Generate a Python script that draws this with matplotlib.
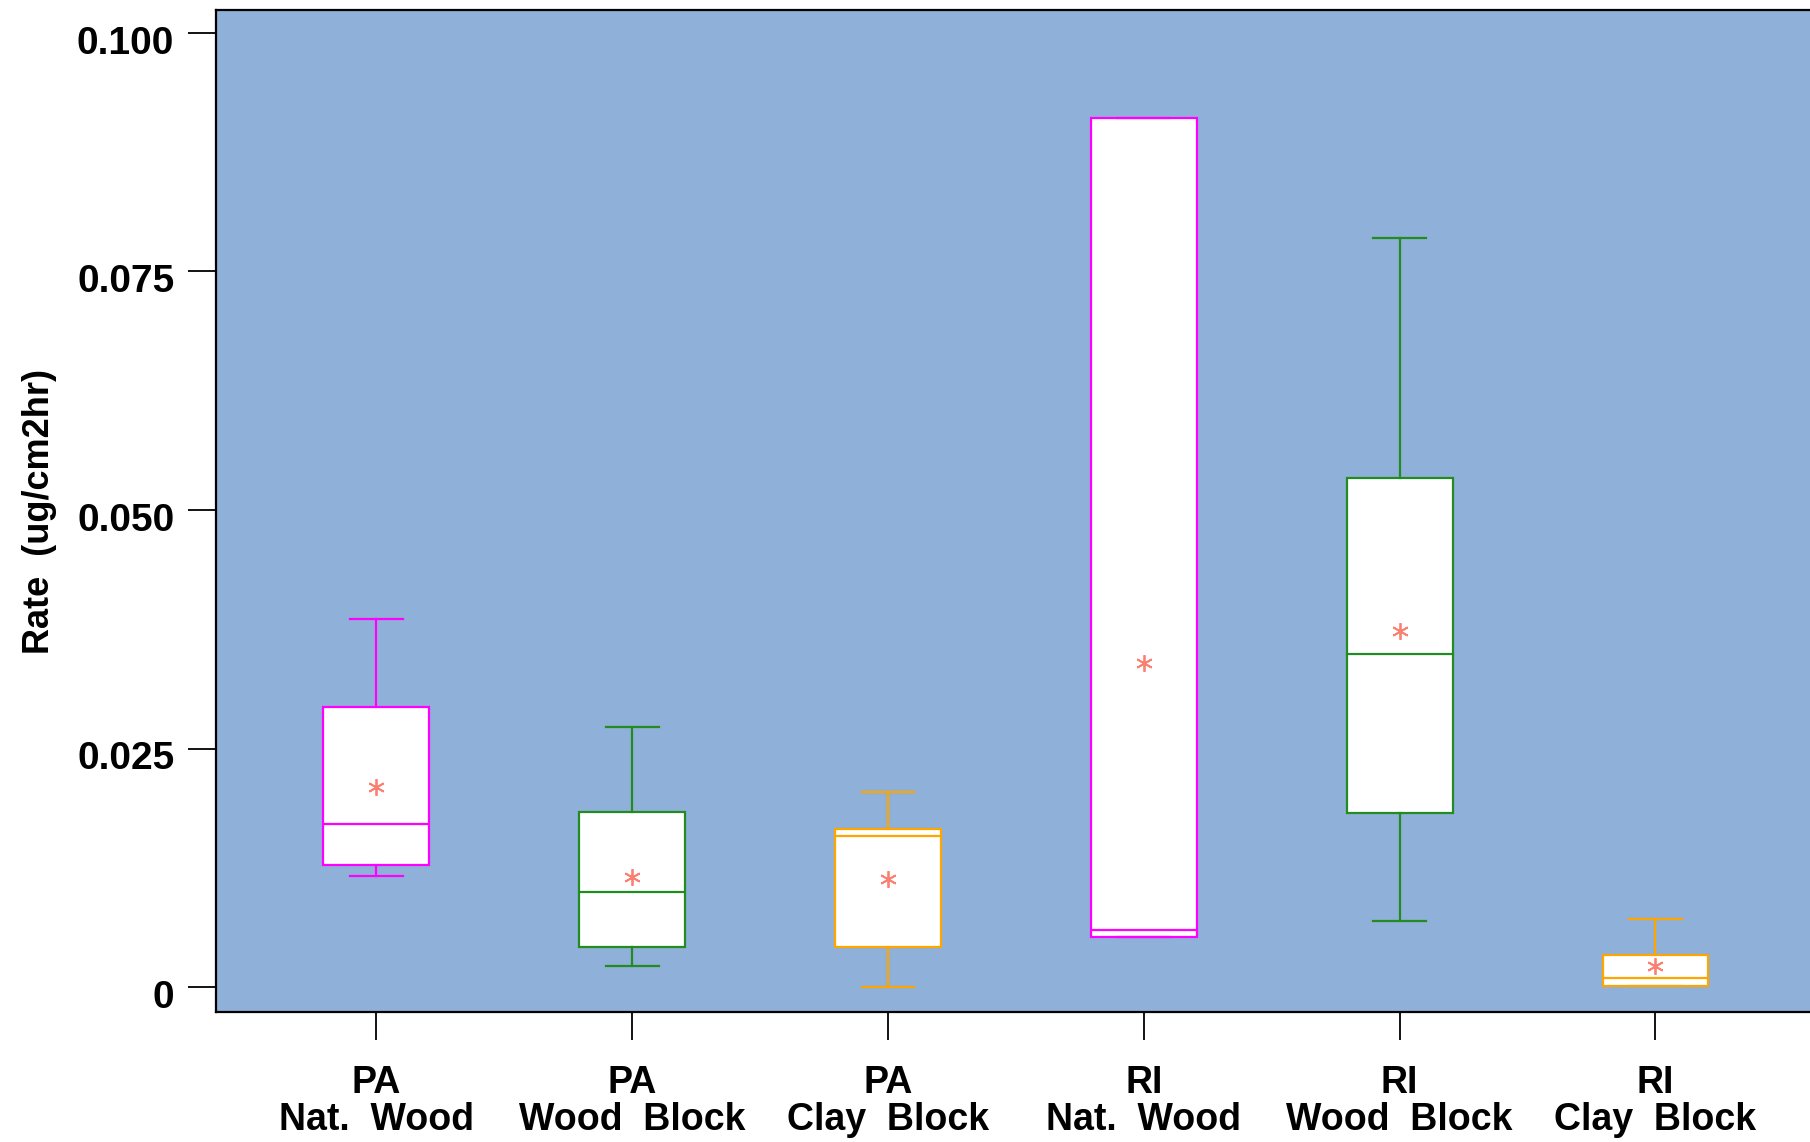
import matplotlib
matplotlib.use("Agg")
import matplotlib.pyplot as plt
import matplotlib.transforms as mtransforms

# data
groups = ["PA\nNat.  Wood", "PA\nWood  Block", "PA\nClay  Block",
          "RI\nNat.  Wood", "RI\nWood  Block", "RI\nClay  Block"]
whisk_lo = [0.0116, 0.0022, 0.0000, 0.0052, 0.0069, 0.0001]
q1 = [0.0128, 0.0042, 0.0042, 0.0052, 0.0182, 0.0001]
med = [0.0171, 0.0100, 0.0158, 0.0060, 0.0349, 0.0009]
q3 = [0.0294, 0.0183, 0.0166, 0.0911, 0.0534, 0.0034]
whisk_hi = [0.0386, 0.0273, 0.0204, 0.0911, 0.0785, 0.0071]
means = [0.0210, 0.0115, 0.0113, 0.0340, 0.0373, 0.0022]
colors = ["#FF00FF", "forestgreen", "orange", "#FF00FF", "forestgreen", "orange"]

yticks = [0, 0.025, 0.05, 0.075, 0.1]
ytick_labels = ["0", "0.025", "0.050", "0.075", "0.100"]

plt.rcParams['font.family'] = ['Liberation Sans', 'DejaVu Sans']
plt.rcParams['font.weight'] = 'bold'

fig = plt.figure(figsize=(18.1, 11.42), dpi=100)
ax = fig.add_axes([0.1193, 0.1138, 0.8807, 0.8774])
ax.set_facecolor('#8FB0D8')

pos = list(range(1, len(groups) + 1))
for i in range(len(groups)):
    stats = [dict(whislo=whisk_lo[i], q1=q1[i], med=med[i], q3=q3[i],
                  whishi=whisk_hi[i], fliers=[])]
    c = colors[i]
    ax.bxp(stats, positions=[pos[i]], widths=0.414, patch_artist=True,
           showfliers=False, capwidths=0.207,
           boxprops=dict(facecolor='white', edgecolor=c, linewidth=1.6),
           medianprops=dict(color=c, linewidth=1.6),
           whiskerprops=dict(color=c, linewidth=1.6),
           capprops=dict(color=c, linewidth=1.6))

ax.plot(pos, means, linestyle='none', marker=(6, 2, 0), markersize=12,
        markeredgewidth=1.3, color='#FA8072', zorder=5)

ax.set_xlim(0.373, 6.604)
ax.set_ylim(-0.00262, 0.1024)
ax.set_yticks(yticks)
ax.set_yticklabels(ytick_labels)
ax.set_xticks(pos)
ax.set_xticklabels(groups)
for lbl in ax.get_xticklabels():
    lbl.set_linespacing(1.05)
    lbl.set_fontsize(27)

ax.tick_params(axis='y', length=20, width=1.3, pad=10, labelsize=28)
ax.tick_params(axis='x', length=20, width=1.3, pad=18)

# R draws the y labels a bit below the tick
shift = mtransforms.ScaledTranslation(0, -5 / 72, fig.dpi_scale_trans)
for lbl in ax.get_yticklabels():
    lbl.set_transform(lbl.get_transform() + shift)

ax.set_ylabel('Rate  (ug/cm2hr)', fontsize=26, fontweight='bold', labelpad=14)

for s in ['left', 'top', 'bottom']:
    ax.spines[s].set_linewidth(1.6)
ax.spines['right'].set_visible(False)

fig.savefig('out.png', dpi=100)
